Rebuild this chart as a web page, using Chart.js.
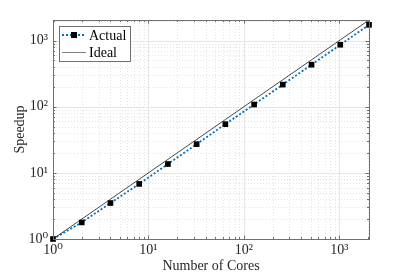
<!DOCTYPE html>
<html>
<head>
<meta charset="utf-8">
<script src="https://cdn.jsdelivr.net/npm/chart.js@4"></script>
<style>
  html, body { margin: 0; padding: 0; background: #fff; }
  #wrap { width: 407px; height: 275px; }
</style>
</head>
<body>
<div id="wrap"><canvas id="speedupChart"></canvas></div>
<script>
const cores = [1, 2, 4, 8, 16, 32, 64, 128, 256, 512, 1024, 2048];
const actualSpeedup = [1, 1.78, 3.5, 6.8, 13.6, 27.2, 54.5, 108, 216, 432, 865, 1730];
const idealSpeedup = [1, 2, 4, 8, 16, 32, 64, 128, 256, 512, 1024, 2048];
const majorTicks = [1, 10, 100, 1000];

const serif = "'Liberation Serif', 'DejaVu Serif', serif";
const sup = { '0': '⁰', '1': '¹', '2': '²', '3': '³' };

function powLabel(v) {
  const e = Math.round(Math.log10(v));
  return '10' + String(e).split('').map(c => sup[c]).join('');
}

function minorValues(max) {
  const out = [];
  for (let d = 1; d <= 1000; d *= 10) {
    for (let m = 2; m <= 9; m++) {
      if (m * d < max) out.push(m * d);
    }
  }
  return out;
}

// grid, box and inner ticks, matlab style
const axesBox = {
  id: 'axesBox',
  beforeDatasetsDraw(chart) {
    const { ctx, chartArea: a, scales: { x, y } } = chart;
    ctx.save();
    ctx.lineWidth = 1;
    ctx.strokeStyle = '#e4e4e4';
    ctx.setLineDash([1, 2]);
    minorValues(2048).forEach(v => {
      const px = Math.round(x.getPixelForValue(v)) + 0.5;
      ctx.beginPath(); ctx.moveTo(px, a.top); ctx.lineTo(px, a.bottom); ctx.stroke();
      const py = Math.round(y.getPixelForValue(v)) + 0.5;
      ctx.beginPath(); ctx.moveTo(a.left, py); ctx.lineTo(a.right, py); ctx.stroke();
    });
    ctx.setLineDash([]);
    ctx.strokeStyle = '#e6e6e6';
    majorTicks.forEach(v => {
      const px = Math.round(x.getPixelForValue(v)) + 0.5;
      ctx.beginPath(); ctx.moveTo(px, a.top); ctx.lineTo(px, a.bottom); ctx.stroke();
      const py = Math.round(y.getPixelForValue(v)) + 0.5;
      ctx.beginPath(); ctx.moveTo(a.left, py); ctx.lineTo(a.right, py); ctx.stroke();
    });
    ctx.restore();
  },
  afterDatasetsDraw(chart) {
    const { ctx, chartArea: a, scales: { x, y } } = chart;
    ctx.save();
    ctx.strokeStyle = '#707070';
    ctx.lineWidth = 1;
    const tick = (v, len) => {
      const px = Math.round(x.getPixelForValue(v)) + 0.5;
      ctx.beginPath();
      ctx.moveTo(px, a.bottom); ctx.lineTo(px, a.bottom - len);
      ctx.moveTo(px, a.top); ctx.lineTo(px, a.top + len);
      ctx.stroke();
      const py = Math.round(y.getPixelForValue(v)) + 0.5;
      ctx.beginPath();
      ctx.moveTo(a.left, py); ctx.lineTo(a.left + len, py);
      ctx.moveTo(a.right, py); ctx.lineTo(a.right - len, py);
      ctx.stroke();
    };
    majorTicks.forEach(v => tick(v, 3.5));
    minorValues(2048).forEach(v => tick(v, 2));
    ctx.strokeRect(Math.round(a.left) + 0.5, Math.round(a.top) + 0.5,
      Math.round(a.right - a.left), Math.round(a.bottom - a.top));
    ctx.restore();
  },
  afterDraw(chart) {
    const { ctx, chartArea: a } = chart;
    const bx = a.left + 6, by = a.top + 6, bw = 71, bh = 35;
    ctx.save();
    ctx.fillStyle = '#fff';
    ctx.fillRect(bx, by, bw, bh);
    ctx.strokeStyle = '#707070';
    ctx.lineWidth = 1;
    ctx.strokeRect(Math.round(bx) + 0.5, Math.round(by) + 0.5, bw, bh);
    const rows = [by + 9, by + 26];
    // Actual sample
    ctx.strokeStyle = '#0072BD';
    ctx.lineWidth = 1.8;
    ctx.setLineDash([2, 2]);
    ctx.beginPath(); ctx.moveTo(bx + 3, rows[0]); ctx.lineTo(bx + 27, rows[0]); ctx.stroke();
    ctx.setLineDash([]);
    ctx.fillStyle = '#000';
    ctx.fillRect(bx + 12, rows[0] - 3, 6, 6);
    // Ideal sample
    ctx.strokeStyle = '#808080';
    ctx.lineWidth = 1;
    ctx.beginPath(); ctx.moveTo(bx + 3, rows[1] + 0.5); ctx.lineTo(bx + 27, rows[1] + 0.5); ctx.stroke();
    ctx.fillStyle = '#000';
    ctx.font = '14px ' + serif;
    ctx.textBaseline = 'middle';
    ctx.fillText('Actual', bx + 30, rows[0] + 1);
    ctx.fillText('Ideal', bx + 30, rows[1] + 1);
    ctx.restore();
  }
};

const tickFont = { family: serif, size: 14 };
const titleFont = { family: serif, size: 14 };

new Chart(document.getElementById('speedupChart'), {
  type: 'line',
  data: {
    datasets: [
      {
        label: 'Ideal',
        data: cores.map((c, i) => ({ x: c, y: idealSpeedup[i] })),
        borderColor: '#1a1a1a',
        borderWidth: 0.8,
        pointRadius: 0,
        fill: false
      },
      {
        label: 'Actual',
        data: cores.map((c, i) => ({ x: c, y: actualSpeedup[i] })),
        borderColor: '#0072BD',
        borderWidth: 1.8,
        borderDash: [2, 2],
        pointStyle: 'rect',
        pointRadius: 4,
        pointBackgroundColor: '#000',
        pointBorderColor: '#000',
        pointBorderWidth: 0,
        clip: false,
        fill: false
      }
    ]
  },
  options: {
    responsive: true,
    maintainAspectRatio: false,
    animation: false,
    layout: { padding: { left: 0, top: 20, right: 38, bottom: 0 } },
    plugins: { legend: { display: false }, tooltip: { enabled: false } },
    scales: {
      x: {
        type: 'logarithmic',
        min: 1,
        max: 2048,
        grid: { display: false, drawTicks: false },
        border: { display: false },
        afterBuildTicks: s => { s.ticks = majorTicks.map(v => ({ value: v })); },
        afterFit: s => { s.height = 36; },
        ticks: { callback: v => powLabel(v), font: tickFont, color: '#262626', padding: 3, maxRotation: 0, autoSkip: false },
        title: { display: true, text: 'Number of Cores', font: titleFont, color: '#262626', padding: { top: 0, bottom: 0 } }
      },
      y: {
        type: 'logarithmic',
        min: 1,
        max: 2048,
        grid: { display: false, drawTicks: false },
        border: { display: false },
        afterBuildTicks: s => { s.ticks = majorTicks.map(v => ({ value: v })); },
        afterFit: s => { s.width = 53; },
        ticks: { callback: v => powLabel(v), font: tickFont, color: '#262626', padding: 5, autoSkip: false },
        title: { display: true, text: 'Speedup', font: titleFont, color: '#262626', padding: { top: 12, bottom: 0 } }
      }
    }
  },
  plugins: [axesBox]
});
</script>
</body>
</html>
